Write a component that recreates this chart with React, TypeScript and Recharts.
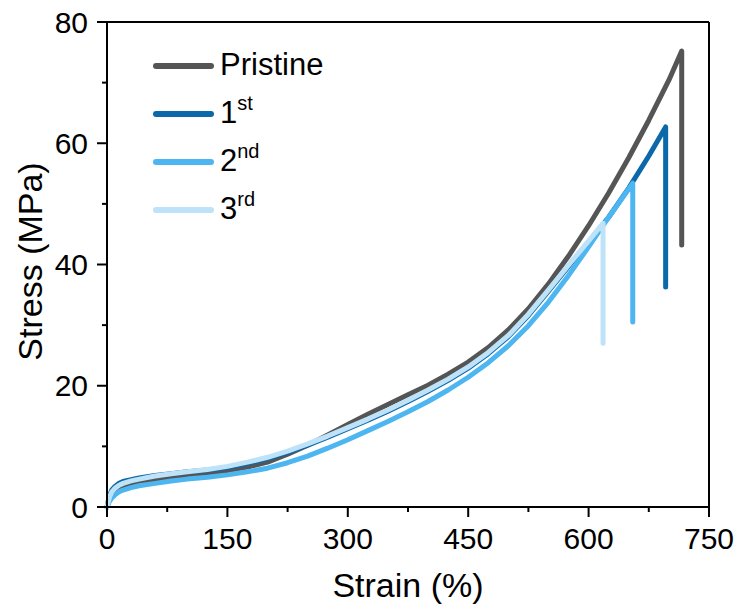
import React from "react";
import { LineChart, Line, XAxis, YAxis, Label, ReferenceLine } from "recharts";

const FONT = '"Liberation Sans", Arial, Helvetica, sans-serif';

// axis ticks (minor ticks every 75 / 10, labels on 150 / 20)
const xTicks = [0, 75, 150, 225, 300, 375, 450, 525, 600, 675, 750];
const yTicks = [0, 10, 20, 30, 40, 50, 60, 70, 80];

// Pristine
const pristineStrain = [0, 3, 6, 10, 15, 20, 30, 40, 60, 80, 100, 125, 150, 175, 200, 225, 250, 275, 300, 325, 350, 375, 400, 425, 450, 475, 500, 525, 550, 575, 600, 625, 650, 675, 700, 716, 716];
const pristineStress = [0, 1.2, 2.0, 2.6, 3.0, 3.3, 3.7, 4.0, 4.5, 4.9, 5.2, 5.6, 6.0, 6.6, 7.4, 8.7, 10.2, 11.9, 13.6, 15.3, 16.9, 18.5, 20.1, 21.9, 23.9, 26.3, 29.2, 32.7, 36.8, 41.4, 46.4, 51.8, 57.6, 63.8, 70.4, 75.2, 43.2];

// 1st cycle
const firstStrain = [0, 3, 6, 10, 15, 20, 30, 40, 60, 80, 100, 125, 150, 175, 200, 225, 250, 275, 300, 325, 350, 375, 400, 425, 450, 475, 500, 525, 550, 575, 600, 625, 650, 675, 696, 696];
const firstStress = [0, 1.9, 2.8, 3.4, 3.9, 4.2, 4.5, 4.8, 5.2, 5.5, 5.8, 6.1, 6.5, 7.2, 8.0, 9.0, 10.2, 11.5, 12.9, 14.3, 15.8, 17.4, 19.1, 20.9, 22.9, 25.3, 28.1, 31.6, 35.6, 39.7, 43.7, 47.8, 52.6, 57.9, 62.7, 36.3];

// 2nd cycle
const secondStrain = [0, 3, 6, 10, 15, 20, 30, 40, 60, 80, 100, 125, 150, 175, 200, 225, 250, 275, 300, 325, 350, 375, 400, 425, 450, 475, 500, 525, 550, 575, 600, 625, 655, 655];
const secondStress = [0, 0.9, 1.5, 2.0, 2.5, 2.8, 3.2, 3.5, 3.9, 4.3, 4.6, 4.9, 5.3, 5.8, 6.4, 7.3, 8.4, 9.7, 11.1, 12.6, 14.1, 15.7, 17.4, 19.3, 21.4, 23.8, 26.6, 29.9, 33.8, 38.2, 42.9, 47.8, 53.4, 30.5];

// 3rd cycle
const thirdStrain = [0, 3, 6, 10, 15, 20, 30, 40, 60, 80, 100, 125, 150, 175, 200, 225, 250, 275, 300, 325, 350, 375, 400, 425, 450, 475, 500, 525, 550, 575, 600, 618, 618];
const thirdStress = [0, 1.6, 2.5, 3.1, 3.6, 3.9, 4.3, 4.6, 5.1, 5.5, 5.8, 6.2, 6.7, 7.4, 8.2, 9.2, 10.4, 11.7, 13.1, 14.5, 16.0, 17.6, 19.3, 21.1, 23.1, 25.5, 28.3, 31.8, 35.8, 39.9, 43.9, 46.8, 27.0];

const seriesNames = ["Pristine", "1st", "2nd", "3rd"];
const seriesColors = ["#555555", "#0b68a9", "#4db6f1", "#bee3f9"];

const toPoints = (xs: number[], ys: number[]) => xs.map((s, i) => ({ strain: s, stress: ys[i] }));

const series = [
  toPoints(pristineStrain, pristineStress),
  toPoints(firstStrain, firstStress),
  toPoints(secondStrain, secondStress),
  toPoints(thirdStrain, thirdStress),
];

const XTick = (props: any) => {
  const { x, y, payload } = props;
  const v = payload.value;
  const major = v % 150 === 0;
  return (
    <g>
      <line x1={x} x2={x} y1={y} y2={y + (major ? 10 : 5)} stroke="#000" strokeWidth={2} />
      {major && (
        <text x={x} y={y + 42} textAnchor="middle" fontSize={30} fontFamily={FONT} fill="#000">
          {v}
        </text>
      )}
    </g>
  );
};

const YTick = (props: any) => {
  const { x, y, payload } = props;
  const v = payload.value;
  const major = v % 20 === 0;
  return (
    <g>
      <line x1={x - (major ? 10 : 5)} x2={x} y1={y} y2={y} stroke="#000" strokeWidth={2} />
      {major && (
        <text x={x - 19} y={y + 10.5} textAnchor="end" fontSize={30} fontFamily={FONT} fill="#000">
          {v}
        </text>
      )}
    </g>
  );
};

// legend drawn as an svg overlay on top of the plot
const ChartLegend = () => (
  <svg width={739} height={612} style={{ position: "absolute", left: 0, top: 0, pointerEvents: "none" }}>
    {seriesNames.map((name, i) => {
      const cy = 66 + i * 48;
      const m = name.match(/^(\d)(\w+)$/);
      return (
        <g key={name}>
          <line x1={156} x2={211} y1={cy} y2={cy} stroke={seriesColors[i]} strokeWidth={6} strokeLinecap="round" />
          <text x={220} y={cy + 9} fontSize={31} fontFamily={FONT} fill="#000">
            {m ? (
              <>
                {m[1]}
                <tspan fontSize={20} dy={-13}>
                  {m[2]}
                </tspan>
              </>
            ) : (
              name
            )}
          </text>
        </g>
      );
    })}
  </svg>
);

export default function App() {
  return (
    <div style={{ position: "absolute", left: 0, top: 0, width: 739, height: 612, background: "#fff" }}>
      <LineChart width={739} height={612} margin={{ top: 22, right: 30, bottom: 0, left: 7 }}>
        <XAxis
          dataKey="strain"
          type="number"
          domain={[0, 750]}
          ticks={xTicks}
          interval={0}
          height={105}
          tickSize={0}
          tickMargin={0}
          tickLine={false}
          tick={<XTick />}
          axisLine={{ stroke: "#000", strokeWidth: 2 }}
        >
          <Label
            value="Strain (%)"
            position="insideBottom"
            offset={15}
            style={{ fontSize: 34, fontFamily: FONT, fill: "#000" }}
          />
        </XAxis>
        <YAxis
          type="number"
          domain={[0, 80]}
          ticks={yTicks}
          interval={0}
          width={100}
          tickSize={0}
          tickMargin={0}
          tickLine={false}
          tick={<YTick />}
          axisLine={{ stroke: "#000", strokeWidth: 2 }}
        >
          <Label
            content={(p: any) => {
              const vb = p.viewBox || { x: 7, y: 22, width: 100, height: 485 };
              const cx = 42;
              const cy = vb.y + vb.height / 2 - 3;
              return (
                <text
                  x={cx}
                  y={cy}
                  textAnchor="middle"
                  fontSize={34}
                  fontFamily={FONT}
                  fill="#000"
                  transform={`rotate(-90, ${cx}, ${cy})`}
                >
                  Stress (MPa)
                </text>
              );
            }}
          />
        </YAxis>
        {/* frame: top and right edges */}
        <ReferenceLine y={80} stroke="#000" strokeWidth={2} ifOverflow="visible" />
        <ReferenceLine x={750} stroke="#000" strokeWidth={2} ifOverflow="visible" />
        {series.map((pts, i) => (
          <Line
            key={seriesNames[i]}
            data={pts}
            dataKey="stress"
            name={seriesNames[i]}
            type="linear"
            stroke={seriesColors[i]}
            strokeWidth={5}
            strokeLinecap="round"
            strokeLinejoin="round"
            dot={false}
            activeDot={false}
            isAnimationActive={false}
          />
        ))}
      </LineChart>
      <ChartLegend />
    </div>
  );
}
